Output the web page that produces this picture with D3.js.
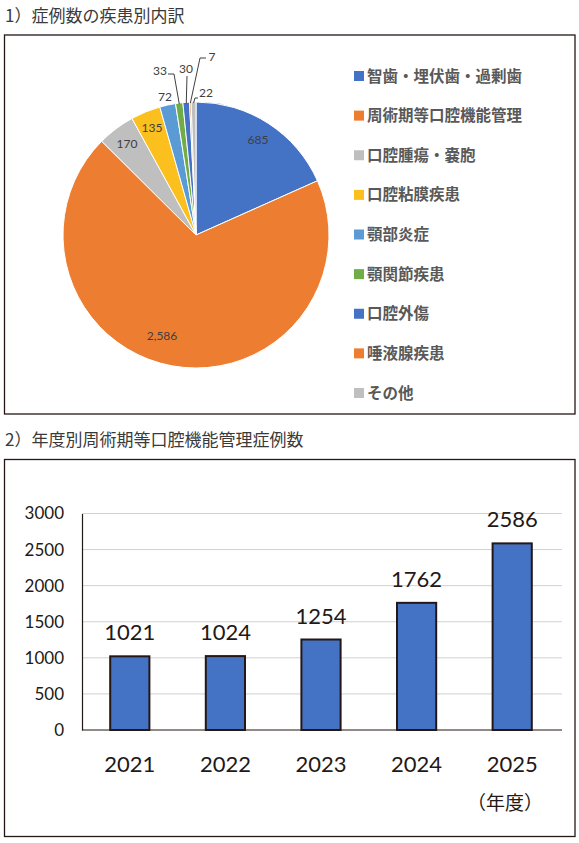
<!DOCTYPE html>
<html>
<head>
<meta charset="utf-8">
<script src="https://cdn.jsdelivr.net/npm/d3@7"></script>
<style>
  body { margin: 0; background: #fff; }
  svg { display: block; }
</style>
</head>
<body>
<svg id="drawing_region"></svg>
<script>
// pie data
const categories = ['智歯・埋伏歯・過剰歯', '周術期等口腔機能管理', '口腔腫瘍・嚢胞', '口腔粘膜疾患',
    '顎部炎症', '顎関節疾患', '口腔外傷', '唾液腺疾患', 'その他'];
const counts = [685, 2586, 170, 135, 72, 33, 30, 7, 22];
const colors = ['#4472c4', '#ed7d31', '#bfbfbf', '#fbc01e', '#5b9bd5', '#70ad47', '#4472c4', '#ed7d31', '#bfbfbf'];

// bar data
const years = ['2021', '2022', '2023', '2024', '2025'];
const cases = [1021, 1024, 1254, 1762, 2586];
const yticks = [0, 500, 1000, 1500, 2000, 2500, 3000];

const jp = '"Noto Sans CJK JP", sans-serif';
const num = 'Lato, "Open Sans", sans-serif';

const svg = d3.select('#drawing_region')
    .attr('width', 579)
    .attr('height', 843);

// titles and frames
svg.append('text').attr('x', 5).attr('y', 22)
    .style('font-family', jp).style('font-size', '17px').attr('fill', '#3a3a3a')
    .text('1）症例数の疾患別内訳');
svg.append('text').attr('x', 5).attr('y', 446)
    .style('font-family', jp).style('font-size', '17px').attr('fill', '#3a3a3a')
    .text('2）年度別周術期等口腔機能管理症例数');

svg.append('rect').attr('x', 4.5).attr('y', 35).attr('width', 570.5).attr('height', 379)
    .attr('fill', 'none').attr('stroke', '#231815').attr('stroke-width', 1.3);
svg.append('rect').attr('x', 4.5).attr('y', 459.5).attr('width', 570.5).attr('height', 377)
    .attr('fill', 'none').attr('stroke', '#231815').attr('stroke-width', 1.3);

// ---- pie ----
const radius = 133;
const pie_g = svg.append('g').attr('transform', 'translate(196, 235)');
const pie = d3.pie().sort(null).value(d => d);
const arcs = pie(counts);
const arc = d3.arc().innerRadius(0).outerRadius(radius);

pie_g.selectAll('path')
    .data(arcs)
    .join('path')
    .attr('d', arc)
    .attr('fill', (d, i) => colors[i])
    .attr('stroke', '#fff')
    .attr('stroke-width', 1);

// label positions (offset from the centre)
const label_pos = [[62, -95], [-34, 101], [-69, -91], [-44, -107], [-31, -138], [-36, -164], [-10, -166], [16, -178], [10, -142]];
const leaders = [null, null, null, null, null,
    [[-28, -161], [-22, -161]],
    [[-9, -159]],
    [[10, -177], [4, -177]],
    [[2, -137], [-1, -137]]];

const fmt = d3.format(',');
pie_g.selectAll('polyline')
    .data(arcs.filter((d, i) => leaders[i]))
    .join('polyline')
    .attr('points', d => {
        const i = arcs.indexOf(d);
        const a = (d.startAngle + d.endAngle) / 2;
        const p = leaders[i].concat([[Math.sin(a) * (radius - 1), -Math.cos(a) * (radius - 1)]]);
        return p.map(q => q.join(',')).join(' ');
    })
    .attr('fill', 'none')
    .attr('stroke', '#404040')
    .attr('stroke-width', 1);

pie_g.selectAll('text')
    .data(arcs)
    .join('text')
    .attr('x', (d, i) => label_pos[i][0])
    .attr('y', (d, i) => label_pos[i][1])
    .attr('text-anchor', 'middle')
    .attr('dy', '0.35em')
    .style('font-family', num)
    .style('font-size', '12px')
    .attr('fill', '#404040')
    .text(d => fmt(d.data));

// legend
const ly = d3.scalePoint().domain(categories).range([76, 393]);
const legend = svg.append('g');
legend.selectAll('rect')
    .data(categories)
    .join('rect')
    .attr('x', 354).attr('y', d => ly(d) - 5)
    .attr('width', 10).attr('height', 10)
    .attr('fill', (d, i) => colors[i]);
legend.selectAll('text')
    .data(categories)
    .join('text')
    .attr('x', 367).attr('y', d => ly(d))
    .attr('dy', '0.36em')
    .style('font-family', jp).style('font-size', '15.5px').style('font-weight', 700)
    .attr('fill', '#595959')
    .text(d => d);

// ---- bars ----
const x = d3.scaleBand().domain(years).range([82, 560]).paddingInner(0.59).paddingOuter(0.295);
const y = d3.scaleLinear().domain([0, 3000]).range([730, 513.5]);

const bar_g = svg.append('g');
bar_g.selectAll('line.grid')
    .data(yticks.slice(1))
    .join('line')
    .attr('class', 'grid')
    .attr('x1', 82).attr('x2', 562)
    .attr('y1', d => y(d)).attr('y2', d => y(d))
    .attr('stroke', '#d0d0d0').attr('stroke-width', 1);

const yaxis = d3.axisLeft(y).tickValues(yticks).tickFormat(d3.format('d')).tickSize(0).tickPadding(18);
const yaxis_group = bar_g.append('g').attr('transform', 'translate(82, 0)').call(yaxis);
yaxis_group.select('.domain').attr('stroke', '#231815').attr('stroke-width', 1.2);
yaxis_group.selectAll('text')
    .style('font-family', num).style('font-size', '17px').attr('fill', '#231815');

bar_g.append('line')
    .attr('x1', 82).attr('x2', 562).attr('y1', y(0)).attr('y2', y(0))
    .attr('stroke', '#231815').attr('stroke-width', 1.2);

bar_g.selectAll('rect')
    .data(cases)
    .join('rect')
    .attr('x', (d, i) => x(years[i]))
    .attr('y', d => y(d))
    .attr('width', x.bandwidth())
    .attr('height', d => y(0) - y(d))
    .attr('fill', '#4472c4')
    .attr('stroke', '#231815')
    .attr('stroke-width', 2);

bar_g.selectAll('text.value')
    .data(cases)
    .join('text')
    .attr('class', 'value')
    .attr('x', (d, i) => x(years[i]) + x.bandwidth() / 2)
    .attr('y', d => y(d) - 16)
    .attr('text-anchor', 'middle')
    .style('font-family', num).style('font-size', '22px')
    .attr('fill', '#231815')
    .text(d => d);

const xaxis = d3.axisBottom(x).tickSize(0).tickPadding(26);
const xaxis_group = bar_g.append('g').attr('transform', `translate(0, ${y(0)})`).call(xaxis);
xaxis_group.select('.domain').remove();
xaxis_group.selectAll('text')
    .style('font-family', num).style('font-size', '22px').attr('fill', '#231815');

svg.append('text').attr('x', 505).attr('y', 810)
    .attr('text-anchor', 'middle')
    .style('font-family', jp).style('font-size', '19px').attr('fill', '#231815')
    .text('（年度）');
</script>
</body>
</html>
